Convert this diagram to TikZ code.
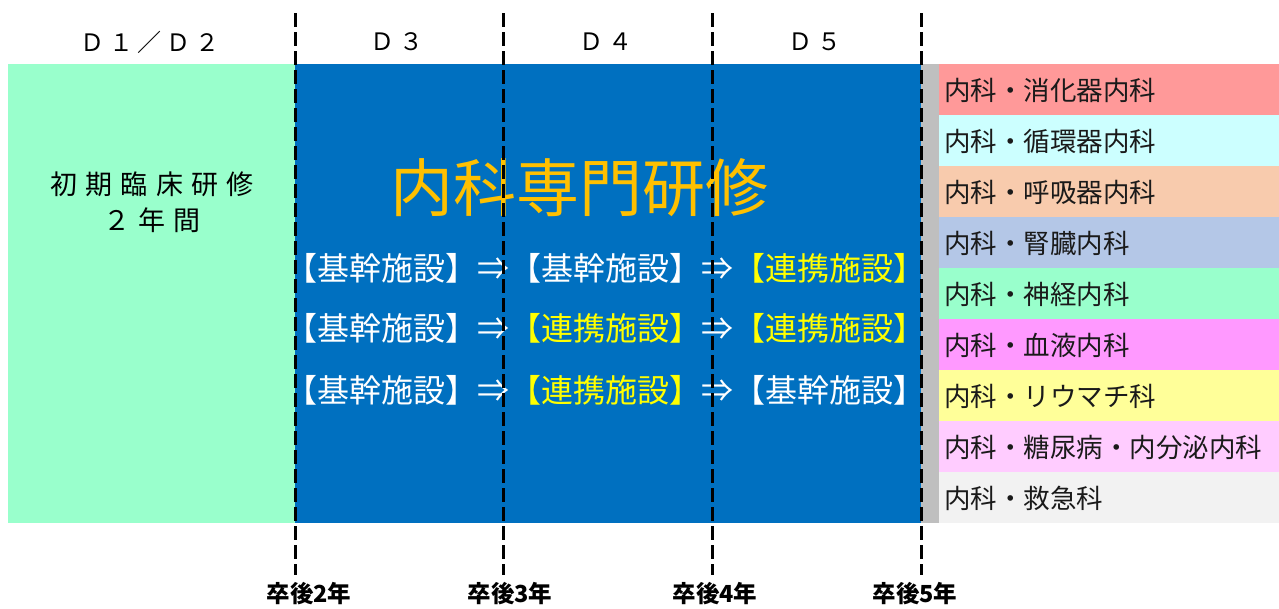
\documentclass[tikz,border=0pt]{standalone}
\usepackage{fontspec}
\setmainfont{Noto Sans CJK JP}
\newfontfamily\jpwide[LetterSpace=30]{Noto Sans CJK JP}
\newfontfamily\jphead[LetterSpace=20]{Noto Sans CJK JP}
\definecolor{ltgreen}{HTML}{99FFCC}
\definecolor{mainblue}{HTML}{0070C0}
\definecolor{strip}{HTML}{BFBFBF}
\definecolor{titleorange}{HTML}{FFC000}
\definecolor{brightyellow}{HTML}{FFFF00}
\definecolor{rA}{HTML}{FF9999}
\definecolor{rB}{HTML}{CCFFFF}
\definecolor{rC}{HTML}{F8CBAD}
\definecolor{rD}{HTML}{B4C7E7}
\definecolor{rE}{HTML}{99FFCC}
\definecolor{rF}{HTML}{FF99FF}
\definecolor{rG}{HTML}{FFFF99}
\definecolor{rH}{HTML}{FFCCFF}
\definecolor{rI}{HTML}{F2F2F2}
\definecolor{listtext}{HTML}{1A1A1A}
\tikzset{
  block/.style={draw=none, inner sep=0pt, outer sep=0pt},
  divider/.style={line width=3pt, dash pattern=on 14pt off 5pt, black},
  header/.style={font=\jphead\fontsize{24}{28}\selectfont, text=black},
  yearlbl/.style={font=\bfseries\fontsize{23.5}{26}\selectfont, text=black},
  rowtext/.style={font=\fontsize{32}{36}\selectfont, text=white, inner sep=0pt},
  listlbl/.style={font=\fontsize{26.5}{30}\selectfont, text=listtext, anchor=west, inner sep=0pt},
}
\newcommand{\lk}[1]{\textcolor{brightyellow}{#1}}
\begin{document}
\begin{tikzpicture}[x=1pt, y=-1pt]
\useasboundingbox (0,0) rectangle (1279,608);
% main blocks
\fill[ltgreen] (8,64) rectangle (295,523);
\fill[mainblue] (295,64) rectangle (921,523);
\fill[strip] (921,64) rectangle (939,523);
% list rows
\foreach \c [count=\i from 0] in {rA,rB,rC,rD,rE,rF,rG,rH,rI} {
  \fill[\c] (939,{64+51*\i}) rectangle (1279,{64+51*(\i+1)});
}
\node[listlbl] (l1) at (944,90) {内科・消化器内科};
\node[listlbl] (l2) at (944,141) {内科・循環器内科};
\node[listlbl] (l3) at (944,192) {内科・呼吸器内科};
\node[listlbl] (l4) at (944,243) {内科・腎臓内科};
\node[listlbl] (l5) at (944,294) {内科・神経内科};
\node[listlbl] (l6) at (944,345) {内科・血液内科};
\node[listlbl] (l7) at (944,396) {内科・リウマチ科};
\node[listlbl] (l8) at (944,447) {内科・糖尿病・内分泌内科};
\node[listlbl] (l9) at (944,498) {内科・救急科};
% left text
\node[font=\jpwide\fontsize{27}{36}\selectfont, align=center, text=black] (init) at (152,202) {初期臨床研修\\２年間};
% title
\node[font=\fontsize{63}{70}\selectfont, text=titleorange] (title) at (579,188) {内科専門研修};
% rows
\node[rowtext] (row1) at (605,268) {【基幹施設】⇒【基幹施設】⇒\lk{【連携施設】}};
\node[rowtext] (row2) at (605,328) {【基幹施設】⇒\lk{【連携施設】}⇒\lk{【連携施設】}};
\node[rowtext] (row3) at (605,390) {【基幹施設】⇒\lk{【連携施設】}⇒【基幹施設】};
% headers
\node[header] (h12) at (150,42) {Ｄ１／Ｄ２};
\node[header] (h3) at (397,42) {Ｄ３};
\node[header] (h4) at (606,42) {Ｄ４};
\node[header] (h5) at (815,42) {Ｄ５};
% dividers
\foreach \n/\x in {a/295,b/503,c/712,d/921} {
  \coordinate (top\n) at (\x,13);
  \coordinate (bot\n) at (\x,575);
  \draw[divider] (top\n) -- (bot\n);
}
% year labels
\node[yearlbl] (y2) at (309,594) {卒後2年};
\node[yearlbl] (y3) at (510,594) {卒後3年};
\node[yearlbl] (y4) at (715,594) {卒後4年};
\node[yearlbl] (y5) at (915,594) {卒後5年};
\end{tikzpicture}
\end{document}
